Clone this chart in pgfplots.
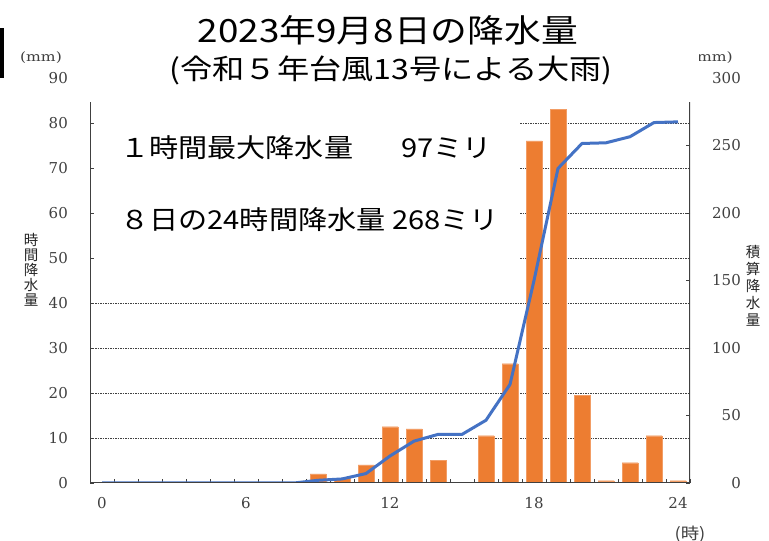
\documentclass[border=0pt]{standalone}
\usepackage{pgfplots}
\pgfplotsset{compat=1.18}
\usepackage{fontspec}
\setmainfont{DejaVu Serif}
\newfontfamily\cjk{Noto Sans CJK JP}
\newfontfamily\cjkt[FakeStretch=1.15]{Noto Sans CJK JP}
\newfontfamily\cjkb[FakeStretch=1.12]{Noto Sans CJK JP}
\newfontfamily\tickfont{DejaVu Serif}
\newfontfamily\mmfont[FakeStretch=1.2]{DejaVu Serif}
\definecolor{xlorange}{HTML}{ED7D31}
\definecolor{xlblue}{HTML}{4472C4}
\definecolor{axgray}{HTML}{404040}
\begin{document}
\begin{tikzpicture}[x=1pt,y=1pt]
\useasboundingbox (0,0) rectangle (769,541);
\fill[white] (0,0) rectangle (769,541);
\pgfplotsset{
  base/.style={at={(90pt,58pt)}, anchor=south west, scale only axis,
    width=600pt, height=405pt, xmin=-0.5, xmax=24.5, ymin=0},
  tl/.style={/pgf/number format/assume math mode=true,
    ticklabel style={font=\tickfont\fontsize{15}{15}\selectfont, text=axgray, inner sep=0pt}},
}
% background axis: grid, white box, left ticks, x ticks
\begin{axis}[base, ymax=90, tl,
  axis line style={draw=none},
  xtick={-0.5,0.5,...,24.5}, xticklabels={},
  extra x ticks={0,6,12,18,24}, extra x tick labels={0,6,12,18,24},
  extra x tick style={major tick length=0pt, xticklabel style={anchor=north, yshift=-14.5pt}},
  ytick={0,10,...,80}, extra y ticks={90}, extra y tick style={major tick length=0pt},
  tick align=inside, major tick length=4pt,
  tick style={axgray, line width=0.8pt},
  yticklabel style={anchor=east, xshift=-22pt},
  ytick pos=left, xtick pos=bottom,
]
\pgfplotsinvokeforeach{10,20,30,40,50,60,70,80}{\draw[axgray, line width=0.7pt, dash pattern=on 1.5pt off 1pt] (axis cs:-0.5,#1) -- (axis cs:24.5,#1);}
\fill[white] (axis cs:-0.3,42.5) rectangle (axis cs:17.4,83.5);
\end{axis}
% bars: hourly precipitation
\begin{axis}[base, ymax=90, hide axis, ybar, bar width=16pt]
\addplot[fill=xlorange, draw=xlorange!75!white, line width=0.4pt] coordinates {
(0,0) (1,0) (2,0) (3,0) (4,0) (5,0) (6,0) (7,0) (8,0)
(9,2) (10,1) (11,4) (12,12.5) (13,12) (14,5) (15,0) (16,10.5)
(17,26.5) (18,76) (19,83) (20,19.5) (21,0.5) (22,4.5) (23,10.5) (24,0.5)};
\end{axis}
% line: cumulative precipitation
\begin{axis}[base, ymax=300, tl,
  axis x line=none, axis y line*=right, y axis line style={draw=none},
  ytick={0,50,...,250}, extra y ticks={300}, extra y tick style={major tick length=0pt},
  tick align=inside, major tick length=4pt,
  tick style={axgray, line width=0.8pt},
  yticklabel style={anchor=east, xshift=51pt},
]
\addplot[xlblue, line width=3pt, line join=round] coordinates {
(0,0) (1,0) (2,0) (3,0) (4,0) (5,0) (6,0) (7,0) (8,0)
(9,2) (10,3) (11,7) (12,20) (13,31) (14,36) (15,36) (16,46.5)
(17,73) (18,150) (19,233) (20,251.5) (21,252) (22,256.5) (23,267) (24,267.5)};
\draw[axgray, line width=1.4pt] (axis cs:-0.5,0) -- (axis cs:24.5,0);
\draw[axgray, line width=1.4pt] (axis cs:-0.5,0) -- (axis cs:-0.5,282.3);
\draw[axgray, line width=1.4pt] (axis cs:24.5,0) -- (axis cs:24.5,282.3);
\end{axis}
% texts
\fill[black] (0,463) rectangle (3.5,513);
\node[font=\cjkt\fontsize{32}{32}\selectfont, inner sep=0] at (388,511) {2023年9月8日の降水量};
\node[font=\cjkt\fontsize{28}{28}\selectfont, inner sep=0] at (391,471) {(令和５年台風13号による大雨)};
\node[font=\mmfont\fontsize{13}{13}\selectfont, text=axgray, inner sep=0] at (41,483) {(mm)};
\begin{scope}
\clip (699,460) rectangle (769,500);
\node[font=\mmfont\fontsize{13}{13}\selectfont, text=axgray, anchor=east, inner sep=0] at (733,483) {(mm)};
\end{scope}
\node[font=\cjk\fontsize{14.5}{15}\selectfont, align=center, inner sep=0, text=black!85] at (31,271) {時\\間\\降\\水\\量};
\node[font=\cjk\fontsize{14.5}{17}\selectfont, align=center, inner sep=0, text=black!85] at (753,255) {積\\算\\降\\水\\量};
\node[font=\cjkt\fontsize{16}{16}\selectfont, inner sep=0, text=axgray] at (690,7) {(時)};
\node[font=\cjkb\fontsize{26}{26}\selectfont, anchor=west, inner sep=0] at (120,393) {１時間最大降水量};
\node[font=\cjkb\fontsize{26}{26}\selectfont, anchor=east, inner sep=0] at (492,393) {97ミリ};
\node[font=\cjkb\fontsize{26}{26}\selectfont, anchor=west, inner sep=0] at (120,321) {８日の24時間降水量 268ミリ};
\end{tikzpicture}
\end{document}
